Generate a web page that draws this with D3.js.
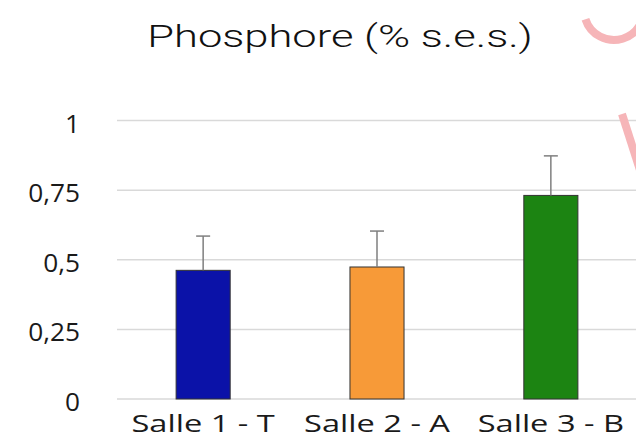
<!DOCTYPE html>
<html>
<head>
<meta charset="utf-8">
<title>Phosphore</title>
<script src="https://d3js.org/d3.v7.min.js"></script>
<style>
  body { margin: 0; background: #fff; }
  svg { display: block; }
</style>
</head>
<body>
<script>
    // chart values
    var salles = ["Salle 1 - T", "Salle 2 - A", "Salle 3 - B"];
    var moyennes = [0.462, 0.474, 0.731];
    var ecarts = [0.123, 0.129, 0.142];
    var couleurs = ["#0b12a8", "#f79a38", "#1c8412"];
    var yTicks = [0, 0.25, 0.5, 0.75, 1];

    var W = 636, H = 443;
    var svg = d3.select("body").append("svg")
        .attr("width", W)
        .attr("height", H);

    var x = d3.scaleBand()
        .domain(salles)
        .range([117, 637])
        .paddingInner(0.689)
        .paddingOuter(0.34);

    var y = d3.scaleLinear().domain([0, 1]).range([399, 120.5]);

    var fmt = function(v) { return String(v).replace(".", ","); };

    // gridlines
    svg.append("g").selectAll("line")
        .data(yTicks)
        .join("line")
        .attr("x1", 117).attr("x2", W)
        .attr("y1", d => y(d)).attr("y2", d => y(d))
        .attr("stroke", "#d9d9d9")
        .attr("stroke-width", 1.5);

    // y tick labels
    svg.append("g").selectAll("text")
        .data(yTicks)
        .join("text")
        .attr("transform", d => `translate(80,${y(d) + 12}) scale(1.05,1)`)
        .attr("text-anchor", "end")
        .style("font-family", "'Open Sans', sans-serif")
        .style("font-size", "25px")
        .style("fill", "#1a1a1a")
        .text(fmt);

    var data = salles.map((s, i) => ({ salle: s, v: moyennes[i], e: ecarts[i], c: couleurs[i] }));

    // bars
    svg.append("g").selectAll("rect")
        .data(data)
        .join("rect")
        .attr("x", d => x(d.salle))
        .attr("width", x.bandwidth())
        .attr("y", d => y(d.v))
        .attr("height", d => y(0) - y(d.v))
        .attr("fill", d => d.c)
        .attr("stroke", "#333")
        .attr("stroke-width", 1);

    // error bars (upper only)
    var err = svg.append("g").attr("stroke", "#7f7f7f").attr("stroke-width", 1.5);
    err.selectAll("line.v")
        .data(data)
        .join("line")
        .attr("class", "v")
        .attr("x1", d => x(d.salle) + x.bandwidth() / 2)
        .attr("x2", d => x(d.salle) + x.bandwidth() / 2)
        .attr("y1", d => y(d.v))
        .attr("y2", d => y(d.v + d.e));
    err.selectAll("line.cap")
        .data(data)
        .join("line")
        .attr("class", "cap")
        .attr("x1", d => x(d.salle) + x.bandwidth() / 2 - 7)
        .attr("x2", d => x(d.salle) + x.bandwidth() / 2 + 7)
        .attr("y1", d => y(d.v + d.e))
        .attr("y2", d => y(d.v + d.e));

    // category labels
    svg.append("g").selectAll("text")
        .data(salles)
        .join("text")
        .attr("transform", d => `translate(${x(d) + x.bandwidth() / 2},432) scale(1.36,1)`)
        .attr("text-anchor", "middle")
        .style("font-family", "'Open Sans', sans-serif")
        .style("font-size", "24px")
        .style("fill", "#1a1a1a")
        .text(d => d);

    // title
    svg.append("text")
        .attr("transform", "translate(340,47) scale(1.36,1)")
        .attr("text-anchor", "middle")
        .style("font-family", "Roboto, sans-serif")
        .style("font-weight", "300")
        .style("font-size", "32px")
        .style("fill", "#111")
        .text("Phosphore (% s.e.s.)");

    // pink watermark pieces on the right edge
    var wm = svg.append("g").attr("fill", "none").attr("stroke", "#f6b5b8").attr("stroke-width", 8);
    wm.append("path")
        .attr("transform", "translate(614,10)")
        .attr("d", d3.arc()({ innerRadius: 30, outerRadius: 30, startAngle: 1.3, endAngle: 4.4 }));
    wm.append("line")
        .attr("x1", 622).attr("y1", 114)
        .attr("x2", 640).attr("y2", 170);
</script>
</body>
</html>
